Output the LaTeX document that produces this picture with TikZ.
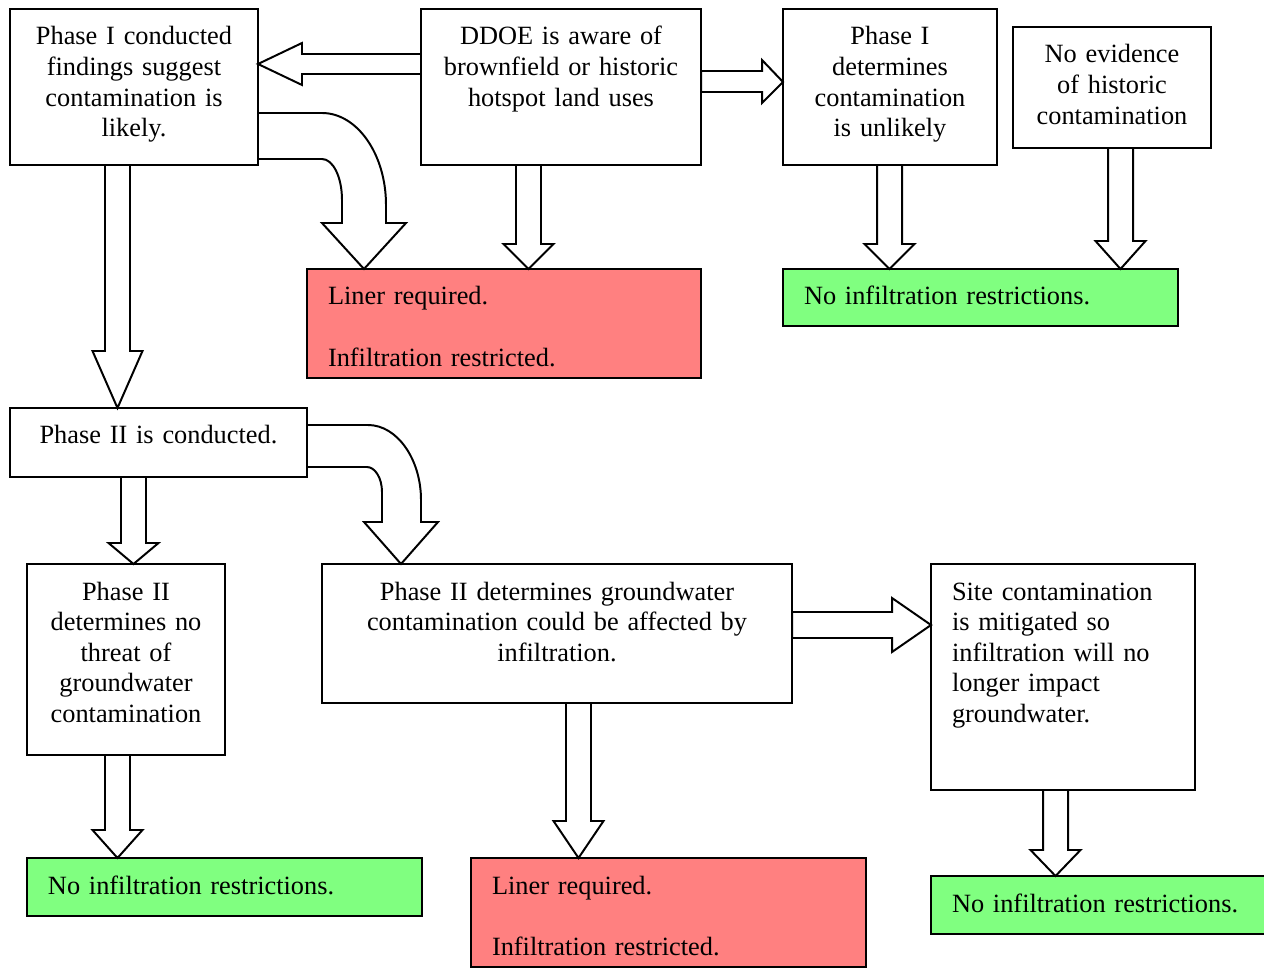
\documentclass[tikz,border=0pt]{standalone}
\usepackage{fontspec}
\setmainfont{Liberation Serif}
\usetikzlibrary{calc}
\definecolor{linerred}{HTML}{FF8080}
\definecolor{okgreen}{HTML}{80FF80}
\newcommand{\pxu}{0.016cm}

\begin{document}
\begin{tikzpicture}[x=0.016cm, y=-0.016cm,
  box/.style 2 args={draw, line width=0.9pt, anchor=north west, inner xsep=0pt, inner ysep=0pt, outer sep=0pt,
    text width={#1*\pxu}, text height={36*\pxu}, text depth={(#2-36)*\pxu}, align=center,
    font=\fontsize{12}{13.9}\selectfont},
  lbox/.style 2 args={box={#1}{#2}, inner xsep={21*\pxu}, text width={(#1-42)*\pxu}, align=left},
  blk/.style={draw, line width=0.9pt, fill=white, line join=miter}
]
  \useasboundingbox (0,0) rectangle (1264,968);

  \node[box={248}{156}] (p1) at (10,9) {Phase I conducted\\ findings suggest\\ contamination is\\ likely.};
  \node[box={280}{156}] (ddoe) at (421,9) {DDOE is aware of\\ brownfield or historic\\ hotspot land uses};
  \node[box={214}{156}] (p1u) at (783,9) {Phase I\\ determines\\ contamination\\ is unlikely};
  \node[box={198}{121}] (noev) at (1013,27) {No evidence\\ of historic\\ contamination};
  \node[lbox={394}{109}, fill=linerred] (liner1) at (307,269) {Liner required.\\[13.9pt] Infiltration restricted.};
  \node[lbox={395}{57}, fill=okgreen] (noinf1) at (783,269) {No infiltration restrictions.};
  \node[box={297}{69}] (p2c) at (10,408) {Phase II is conducted.};
  \node[box={198}{191}] (p2no) at (27,564) {Phase II\\ determines no\\ threat of\\ groundwater\\ contamination};
  \node[box={470}{139}] (p2gw) at (322,564) {Phase II determines groundwater\\ contamination could be affected by\\ infiltration.};
  \node[lbox={264}{226}] (site) at (931,564) {Site contamination\\ is mitigated so\\ infiltration will no\\ longer impact\\ groundwater.};
  \node[lbox={395}{58}, fill=okgreen] (noinf2) at (27,858) {No infiltration restrictions.};
  \node[lbox={395}{109}, fill=linerred] (liner2) at (471,858) {Liner required.\\[13.9pt] Infiltration restricted.};
  \node[lbox={395}{58}, fill=okgreen] (noinf3) at (931,876) {No infiltration restrictions.};

  \foreach \src/\dst/\sx/\hl in {p1/p2c/105/57, ddoe/liner1/516/25, p1u/noinf1/877/25, noev/noinf1/1108/28,
      p2c/p2no/121/21, p2no/noinf2/105/28, p2gw/liner2/566/37, site/noinf3/1043/26}
    \draw[blk] (\src.south -| \sx,0) -- ($(\dst.north -| \sx,0)+(0,-\hl)$) -- ++(-12.5,0)
      -- ($(\dst.north -| \sx,0)+(12.5,0)$) -- ($(\dst.north -| \sx,0)+(37.5,-\hl)$) -- ++(-12.5,0)
      -- (\src.south -| \sx+25,0) -- cycle;

  \draw[blk] (ddoe.west |- 0,54) -- ($(p1.east |- 0,54)+(44,0)$) -- ++(0,-11) -- (p1.east |- 0,64)
    -- ($(p1.east |- 0,85)+(44,0)$) -- ++(0,-11) -- (ddoe.west |- 0,74) -- cycle;
  \draw[blk] (ddoe.east |- 0,71) -- ($(p1u.west |- 0,71)+(-21,0)$) -- ++(0,-11) -- (p1u.west |- 0,82)
    -- ($(p1u.west |- 0,103)+(-21,0)$) -- ++(0,-11) -- (ddoe.east |- 0,92) -- cycle;
  \draw[blk] (p2gw.east |- 0,612) -- ($(site.west |- 0,612)+(-39,0)$) -- ++(0,-14) -- (site.west |- 0,625)
    -- ($(site.west |- 0,652)+(-39,0)$) -- ++(0,-14) -- (p2gw.east |- 0,638) -- cycle;

  \draw[blk] (p1.east |- 0,113) -- (322,113) .. controls (357,113) and (386,154) .. (386,205) -- (386,223)
    -- (406,223) -- (liner1.north -| 364,0) -- (322,223) -- (342,223) -- (342,200)
    .. controls (342,177) and (333,159) .. (322,159) -- (p1.east |- 0,159) -- cycle;
  \draw[blk] (p2c.east |- 0,425) -- (368,425) .. controls (397,425) and (421,459) .. (421,500) -- (421,522)
    -- (438,522) -- (p2gw.north -| 401,0) -- (364,522) -- (382,522) -- (382,492)
    .. controls (382,478) and (375,467) .. (367,467) -- (p2c.east |- 0,467) -- cycle;
\end{tikzpicture}
\end{document}
